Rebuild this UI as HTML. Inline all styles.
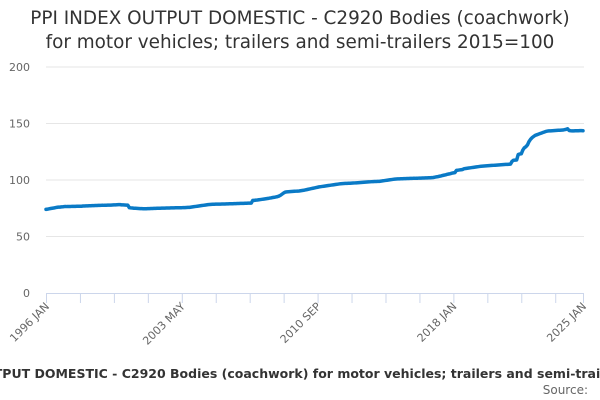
<!DOCTYPE html>
<html><head><meta charset="utf-8"><style>
body{margin:0;background:#fff;}
svg{display:block;font-family:"DejaVu Sans","Liberation Sans",sans-serif;}
</style></head><body>
<svg id="chart" width="600" height="400" viewBox="0 0 600 400" xmlns="http://www.w3.org/2000/svg">
<text x="300" y="24" text-anchor="middle" font-size="18.4" fill="#333">PPI INDEX OUTPUT DOMESTIC - C2920 Bodies (coachwork)</text>
<text x="300" y="48" text-anchor="middle" font-size="18.4" fill="#333">for motor vehicles; trailers and semi-trailers 2015=100</text>
<g id="grid"></g>
<g id="yaxis"></g>
<g id="xaxis"></g>
<g id="series"></g>
<text x="300" y="378" text-anchor="middle" font-size="12.5" font-weight="bold" fill="#333">PPI INDEX OUTPUT DOMESTIC - C2920 Bodies (coachwork) for motor vehicles; trailers and semi-trailers 2015=100</text>
<text x="588" y="394" text-anchor="end" font-size="12" fill="#666">Source:</text>
</svg>
<script>
const values = [
74.0,74.2,74.5,74.8,75.0,75.2,75.5,75.8,76.0,76.0,76.2,76.3,
76.5,76.5,76.6,76.6,76.6,76.7,76.7,76.7,76.8,76.8,76.8,76.8,
77.0,77.0,77.1,77.1,77.2,77.2,77.3,77.3,77.4,77.4,77.5,77.5,
77.6,77.6,77.7,77.7,77.8,77.8,77.8,77.9,78.0,78.0,78.1,78.2,
78.2,78.0,78.0,77.9,77.8,77.8,75.5,75.3,75.2,75.0,75.0,74.9,
74.8,74.7,74.7,74.6,74.6,74.6,74.7,74.7,74.8,74.8,74.9,74.9,
75.0,75.0,75.0,75.1,75.1,75.1,75.2,75.2,75.2,75.3,75.3,75.3,
75.4,75.4,75.4,75.5,75.5,75.6,75.6,75.7,75.8,75.8,76.0,76.2,
76.4,76.6,76.8,77.0,77.2,77.4,77.6,77.8,78.0,78.2,78.3,78.4,
78.5,78.5,78.6,78.6,78.7,78.7,78.8,78.8,78.8,78.9,78.9,79.0,
79.0,79.0,79.1,79.1,79.2,79.2,79.3,79.3,79.3,79.4,79.4,79.5,
79.5,79.5,82.0,82.0,82.2,82.3,82.5,82.7,82.9,83.1,83.3,83.5,
83.7,84.0,84.2,84.5,84.7,85.0,85.3,85.8,86.5,87.5,88.5,89.3,
89.5,89.6,89.7,89.8,89.9,90.0,90.1,90.2,90.3,90.5,90.7,90.9,
91.2,91.5,91.8,92.1,92.4,92.7,93.0,93.3,93.6,93.9,94.1,94.3,
94.5,94.7,94.9,95.1,95.3,95.5,95.7,95.9,96.1,96.3,96.5,96.7,
96.8,96.9,97.0,97.0,97.1,97.1,97.2,97.3,97.4,97.5,97.6,97.7,
97.8,97.9,98.0,98.1,98.2,98.3,98.4,98.5,98.6,98.7,98.7,98.8,
98.8,99.0,99.2,99.4,99.6,99.8,100.0,100.2,100.4,100.6,100.8,100.9,
101.0,101.0,101.1,101.1,101.2,101.2,101.3,101.3,101.4,101.4,101.5,101.5,
101.6,101.6,101.7,101.7,101.8,101.8,101.9,101.9,102.0,102.0,102.1,102.2,
102.5,102.8,103.0,103.3,103.6,104.0,104.3,104.6,105.0,105.3,105.6,106.0,
106.3,106.5,108.5,108.7,108.9,109.1,109.3,110.0,110.2,110.4,110.6,110.8,
111.0,111.2,111.4,111.6,111.8,112.0,112.2,112.3,112.4,112.5,112.6,112.7,
112.8,112.9,113.0,113.1,113.2,113.3,113.4,113.5,113.6,113.7,113.8,113.8,
113.9,114.0,116.5,117.5,117.6,117.7,122.5,123.0,123.2,126.5,128.5,129.5,
131.0,134.0,136.0,137.5,138.5,139.5,140.0,140.5,141.0,141.5,142.0,142.5,
143.0,143.3,143.5,143.5,143.6,143.7,143.8,143.9,144.0,144.0,144.1,144.2,
144.5,144.8,145.3,143.8,143.6,143.5,143.5,143.6,143.6,143.6,143.7,143.7,
143.6
];
const yTicks = [0,50,100,150,200];
const xLabels = ["1996 JAN","2003 MAY","2010 SEP","2018 JAN","2025 JAN"];
const xLabelIdx = [0,88,176,264,348];
const tickStep = 22;

const NS="http://www.w3.org/2000/svg";
const X0=46, X1=583, Y0=293, Y1=67, YMAX=200;
const n = values.length;
function xs(i){return X0+(X1-X0)*i/(n-1);}
function ys(v){return Y0-(Y0-Y1)*v/YMAX;}
function mk(tag,attrs,parent){const e=document.createElementNS(NS,tag);for(const k in attrs)e.setAttribute(k,attrs[k]);parent.appendChild(e);return e;}

const grid=document.getElementById('grid'), yaxis=document.getElementById('yaxis'), xaxis=document.getElementById('xaxis'), series=document.getElementById('series');
yTicks.forEach(t=>{
  if(t>0){const l=mk('line',{x1:X0,x2:X1+1,y1:ys(t),y2:ys(t),stroke:'#e6e6e6','stroke-width':1},grid);
  
  }
  const tx=mk('text',{x:30,y:ys(t)+4,'text-anchor':'end','font-size':11,fill:'#666'},yaxis);
  tx.textContent=t;
  
  
});
const ax=mk('line',{x1:X0,x2:X1+1,y1:Y0+0.5,y2:Y0+0.5,stroke:'#ccd6eb','stroke-width':1},xaxis);


for(let i=0;i<n;i+=tickStep){
  const tk=mk('line',{x1:xs(i)+0.5,x2:xs(i)+0.5,y1:Y0,y2:Y0+10,stroke:'#ccd6eb','stroke-width':1},xaxis);
  
  
}
const lt=mk('line',{x1:xs(n-1)+0.5,x2:xs(n-1)+0.5,y1:Y0,y2:Y0+10,stroke:'#ccd6eb','stroke-width':1},xaxis);


xLabels.forEach((lab,k)=>{
  const x=xs(xLabelIdx[k])+4, y=Y0+14;
  const tx=mk('text',{x:x,y:y,'text-anchor':'end','font-size':11,fill:'#666',transform:`rotate(-45 ${x} ${y})`},xaxis);
  tx.textContent=lab;
  
  
});
let d='';
values.forEach((v,i)=>{d+=(i?'L':'M')+xs(i).toFixed(2)+' '+ys(v).toFixed(2);});
const p=mk('path',{d:d,fill:'none',stroke:'#0a7ac6','stroke-width':3.5,'stroke-linejoin':'round','stroke-linecap':'round'},series);


</script>
</body></html>
